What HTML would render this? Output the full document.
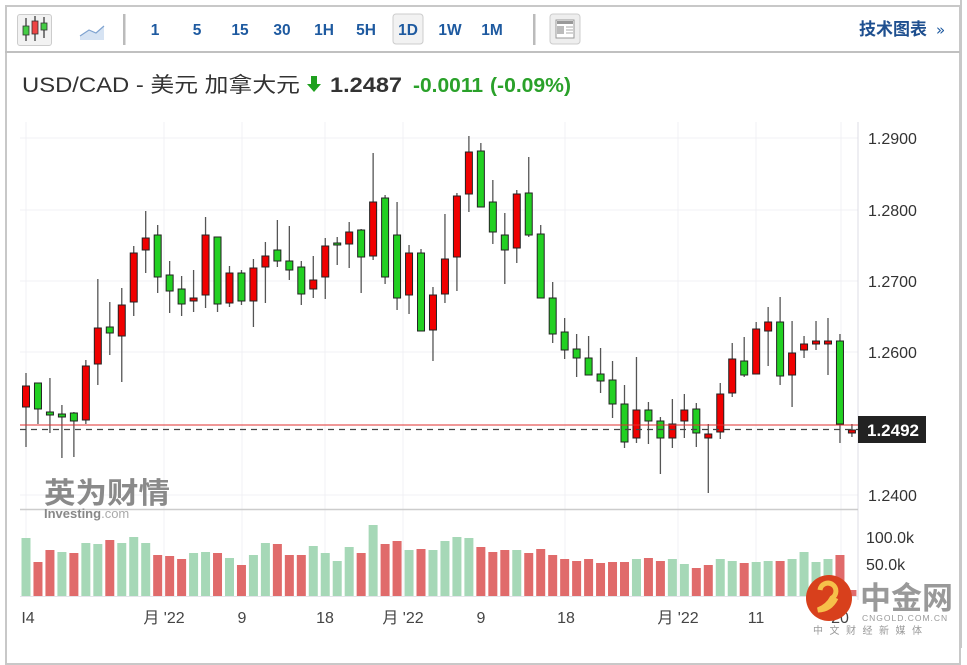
<!DOCTYPE html>
<html><head><meta charset="utf-8"><style>
html,body{margin:0;padding:0;background:#fff;width:967px;height:648px;overflow:hidden;font-family:"Liberation Sans","Noto Sans CJK SC",sans-serif}
.abs{position:absolute}
</style></head><body>
<div class="abs" style="left:5px;top:5px;width:956px;height:660px;border:2px solid #c8c8c8;box-sizing:border-box"></div>
<div class="abs" style="left:5px;top:51px;width:957px;height:2px;background:#c0c0c0"></div>
<div class="abs" style="left:17px;top:14px;width:33px;height:30px;border:1px solid #ccc;border-radius:3px;background:#f2f2f2"></div>
<svg class="abs" style="left:0;top:0" width="967" height="110">
<g stroke="#555" stroke-width="1.5"><line x1="26" y1="18" x2="26" y2="41"/><line x1="35" y1="16" x2="35" y2="41"/><line x1="44" y1="17" x2="44" y2="38"/></g>
<rect x="23" y="26" width="6" height="9" fill="#4c4" stroke="#333" stroke-width=".8"/>
<rect x="32" y="21" width="6" height="13" fill="#e44" stroke="#333" stroke-width=".8"/>
<rect x="41" y="23" width="6" height="7" fill="#4c4" stroke="#333" stroke-width=".8"/>
<path d="M80 36 L89 30 L96 33 L104 26 L104 40 L80 40Z" fill="#d6e3f3"/>
<path d="M80 36 L89 30 L96 33 L104 26" fill="none" stroke="#7fa3d0" stroke-width="1.2"/>
<rect x="123" y="14" width="2.5" height="31" fill="#bbb"/>
<rect x="533" y="14" width="2.5" height="31" fill="#bbb"/>
<rect x="550" y="14" width="30" height="30" rx="3" fill="#eee" stroke="#ccc"/>
<rect x="556" y="20" width="18" height="18" fill="#fff" stroke="#999"/>
<rect x="557" y="21" width="16" height="3" fill="#999"/><rect x="557" y="26" width="7" height="8" fill="#bbb"/>
<g stroke="#aaa"><line x1="566" y1="27" x2="573" y2="27"/><line x1="566" y1="30" x2="573" y2="30"/><line x1="566" y1="33" x2="573" y2="33"/></g>
<rect x="393" y="14" width="30" height="30" rx="3" fill="#f2f2f2" stroke="#ccc"/>
<g font-family="Liberation Sans" font-weight="bold" font-size="15.5" fill="#1e5aa0" text-anchor="middle">
<text x="155" y="35">1</text><text x="197" y="35">5</text><text x="240" y="35">15</text><text x="282" y="35">30</text><text x="324" y="35">1H</text><text x="366" y="35">5H</text><text x="408" y="35">1D</text><text x="450" y="35">1W</text><text x="492" y="35">1M</text>
</g>
<text x="859" y="35" font-family="Liberation Sans,Noto Sans CJK SC,sans-serif" font-weight="bold" font-size="17" fill="#1e4f8f">技术图表</text>
<text x="936" y="35" font-size="15" fill="#1e5aa0" font-family="DejaVu Sans">»</text>
<text x="22" y="92" font-size="21" fill="#333" textLength="278" lengthAdjust="spacingAndGlyphs" font-family="Liberation Sans,Noto Sans CJK SC,sans-serif">USD/CAD - 美元 加拿大元</text>
<path d="M311 76h6v8h4l-7 8-7-8h4z" fill="#1fa01f"/>
<text x="330" y="92" font-size="21" font-weight="bold" fill="#333" textLength="72" lengthAdjust="spacingAndGlyphs">1.2487</text>
<text x="413" y="92" font-size="20" font-weight="bold" fill="#2aa12a" textLength="70" lengthAdjust="spacingAndGlyphs">-0.0011</text>
<text x="490" y="92" font-size="20" font-weight="bold" fill="#2aa12a" textLength="81" lengthAdjust="spacingAndGlyphs">(-0.09%)</text>
</svg>
<svg class="abs" id="ch" style="left:0;top:0" width="967" height="648" font-family="Liberation Sans,Noto Sans CJK SC,sans-serif">
<g stroke="#f1f1f4" stroke-width="1">
<line x1="20" y1="138" x2="858" y2="138"/><line x1="20" y1="210" x2="858" y2="210"/><line x1="20" y1="281" x2="858" y2="281"/><line x1="20" y1="352" x2="858" y2="352"/><line x1="20" y1="495" x2="858" y2="495"/>
<line x1="26" y1="122" x2="26" y2="596"/><line x1="164" y1="122" x2="164" y2="596"/><line x1="242" y1="122" x2="242" y2="596"/><line x1="325" y1="122" x2="325" y2="596"/><line x1="403" y1="122" x2="403" y2="596"/><line x1="565" y1="122" x2="565" y2="596"/><line x1="678" y1="122" x2="678" y2="596"/><line x1="756" y1="122" x2="756" y2="596"/><line x1="841" y1="122" x2="841" y2="596"/>
</g>
<line x1="858" y1="122" x2="858" y2="600" stroke="#dcdce4"/>
<line x1="20" y1="509.5" x2="858" y2="509.5" stroke="#ccc" stroke-width="1.5"/>
<line x1="20" y1="596.5" x2="858" y2="596.5" stroke="#e4e4ea"/>
<text x="44" y="503" font-size="29" font-weight="bold" fill="#8a8a8a" textLength="126" lengthAdjust="spacingAndGlyphs">英为财情</text>
<text x="44" y="518" font-size="13" font-weight="bold" fill="#888">Investing<tspan font-weight="normal" fill="#aaa">.com</tspan></text>
<g id="vol"></g><g id="cd"></g>
<line x1="20" y1="425" x2="858" y2="425" stroke="#e03030" stroke-width="1"/>
<line x1="20" y1="429.5" x2="858" y2="429.5" stroke="#444" stroke-width="1.2" stroke-dasharray="6,5"/>
<g font-size="16" fill="#333"><text x="868" y="144">1.2900</text><text x="868" y="216">1.2800</text><text x="868" y="287">1.2700</text><text x="868" y="358">1.2600</text><text x="868" y="501">1.2400</text>
<text x="866" y="543">100.0k</text><text x="866" y="570">50.0k</text></g>
<rect x="858" y="416" width="68" height="27" fill="#222"/>
<text x="867" y="436" font-size="17" font-weight="bold" fill="#fff">1.2492</text>
<g font-size="16" fill="#444" text-anchor="middle"><text x="28" y="623">I4</text><text x="164" y="623">月 '22</text><text x="242" y="623">9</text><text x="325" y="623">18</text><text x="403" y="623">月 '22</text><text x="481" y="623">9</text><text x="566" y="623">18</text><text x="678" y="623">月 '22</text><text x="756" y="623">11</text><text x="840" y="623">20</text></g>
<circle cx="829" cy="598" r="23" fill="#d8401c"/>
<path d="M820 590 a8 8 0 1 1 12 8 q-4 8 -14 12 q12 0 18 -12" fill="none" stroke="#f6c04a" stroke-width="5"/>
<text x="860" y="609" font-size="31" font-weight="bold" fill="#999">中金网</text>
<text x="862" y="621" font-size="8.5" fill="#999" letter-spacing="1">CNGOLD.COM.CN</text>
<text x="813" y="634" font-size="10" fill="#999" letter-spacing="6.5">中文财经新媒体</text>
<line x1="961" y1="0" x2="961" y2="648" stroke="#c8c8c8" stroke-width="2"/>
</svg>
<script>
var D=[[386,407,373,447,'r'],[383,409,383,424,'g'],[412,415,378,433,'g'],[414,417,405,458,'g'],[413,421,412,457,'g'],[366,420,360,424,'r'],[328,364,279,385,'r'],[327,333,302,355,'g'],[305,336,288,382,'r'],[253,302,246,316,'r'],[238,250,211,273,'r'],[235,277,225,293,'g'],[275,291,261,313,'g'],[289,304,276,316,'g'],[298,301,270,312,'r'],[235,295,217,308,'r'],[237,304,237,312,'g'],[273,303,266,307,'r'],[273,301,270,305,'g'],[268,301,259,327,'r'],[256,267,242,303,'r'],[250,261,220,267,'g'],[261,270,226,280,'g'],[267,294,261,305,'g'],[280,289,256,298,'r'],[246,277,238,299,'r'],[243,245,237,265,'g'],[232,244,222,268,'r'],[230,257,229,293,'g'],[202,256,153,260,'r'],[198,277,195,284,'g'],[235,298,202,310,'g'],[253,295,245,314,'r'],[253,331,249,331,'g'],[295,330,287,361,'r'],[259,294,214,303,'r'],[196,257,193,291,'r'],[152,194,136,212,'r'],[151,207,143,207,'g'],[202,232,180,244,'g'],[235,250,213,284,'g'],[194,248,190,263,'r'],[193,235,157,237,'g'],[234,298,225,298,'g'],[298,334,282,343,'g'],[332,350,318,359,'g'],[349,358,334,377,'g'],[358,375,336,375,'g'],[374,381,348,393,'g'],[380,404,361,418,'g'],[404,442,385,448,'g'],[410,438,357,443,'r'],[410,421,402,444,'g'],[421,438,417,474,'g'],[424,438,399,448,'r'],[410,421,394,438,'r'],[409,433,403,447,'g'],[434,438,424,493,'r'],[394,432,383,439,'r'],[359,393,343,397,'r'],[361,375,337,377,'g'],[329,374,322,374,'r'],[322,331,307,366,'r'],[322,376,297,385,'g'],[353,375,321,407,'r'],[344,350,336,358,'r'],[341,344,321,350,'r'],[341,344,318,375,'r'],[341,424,334,443,'g'],[430,433,424,437,'r']];
var V=[[538,'g'],[562,'r'],[550,'r'],[552,'g'],[553,'r'],[543,'g'],[544,'g'],[540,'r'],[543,'g'],[537,'g'],[543,'g'],[555,'r'],[556,'r'],[559,'r'],[553,'g'],[552,'g'],[553,'r'],[558,'g'],[565,'r'],[555,'g'],[543,'g'],[544,'r'],[555,'r'],[555,'r'],[546,'g'],[553,'g'],[561,'g'],[547,'g'],[553,'r'],[525,'g'],[544,'r'],[541,'r'],[550,'g'],[549,'r'],[550,'g'],[541,'g'],[537,'g'],[538,'g'],[547,'r'],[552,'r'],[550,'r'],[550,'g'],[553,'r'],[549,'r'],[555,'r'],[559,'r'],[561,'r'],[559,'r'],[563,'r'],[562,'r'],[562,'r'],[559,'g'],[558,'r'],[561,'r'],[559,'g'],[564,'g'],[568,'r'],[565,'r'],[559,'g'],[561,'g'],[563,'r'],[562,'g'],[561,'g'],[561,'r'],[559,'g'],[552,'g'],[562,'g'],[559,'g'],[555,'r'],[590,'r']];
var ns='http://www.w3.org/2000/svg',cd=document.getElementById('cd'),vo=document.getElementById('vol');
function el(p,t,a){var e=document.createElementNS(ns,t);for(var k in a)e.setAttribute(k,a[k]);p.appendChild(e);}
D.forEach(function(d,i){var x=26+i*11.97;
el(cd,'line',{x1:x,x2:x,y1:d[2],y2:d[3],stroke:'#555','stroke-width':1.3});
el(cd,'rect',{x:x-3.5,y:d[0],width:7,height:Math.max(d[1]-d[0],2),fill:d[4]=='r'?'#f00000':'#22d022',stroke:'#222','stroke-width':1});});
V.forEach(function(v,i){var x=26+i*11.97;
el(vo,'rect',{x:x-4.5,y:v[0],width:9,height:596-v[0],fill:v[1]=='r'?'#e06b6b':'#a6d8b7'});});
</script>
</body></html>
